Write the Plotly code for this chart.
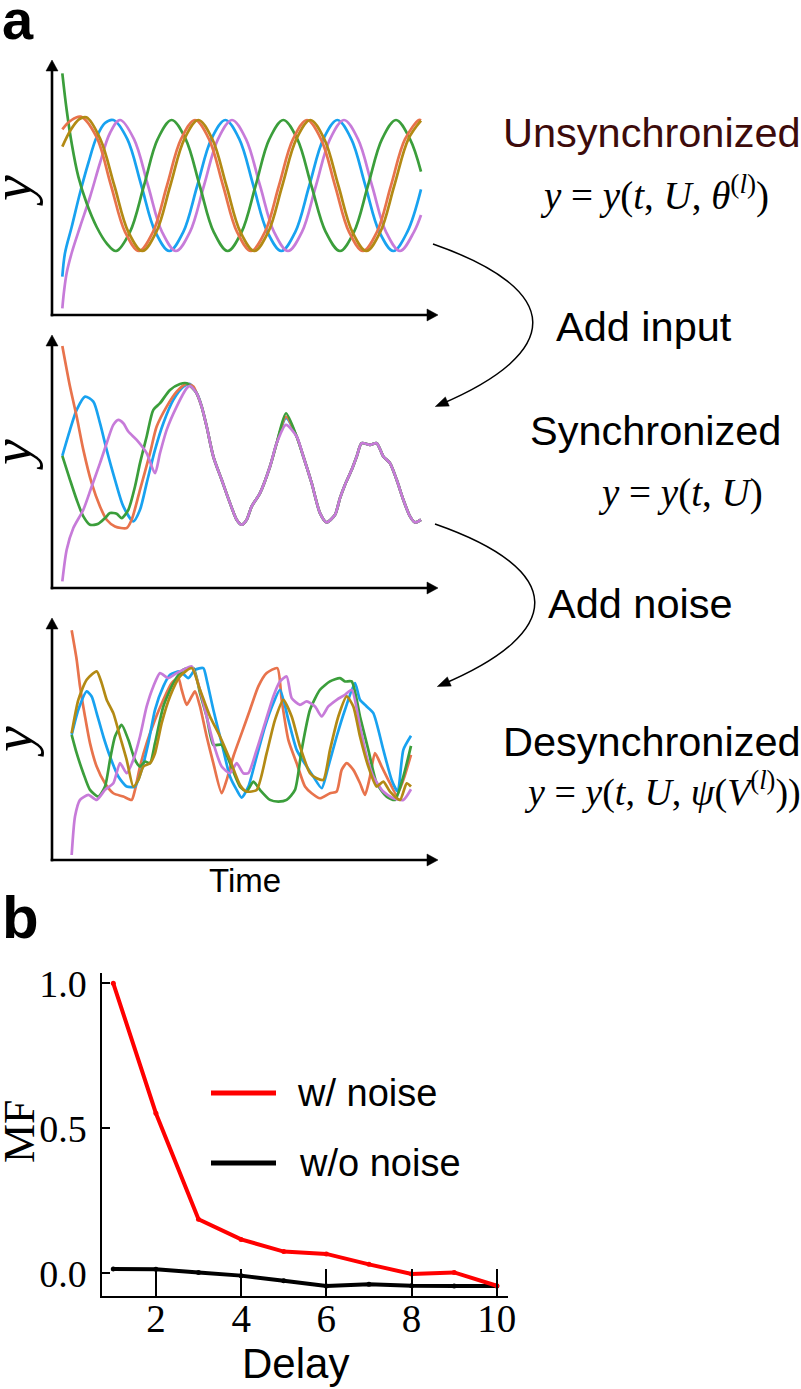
import plotly.graph_objects as go

W, H = 801, 1389

# ======================= DATA =======================
# Panel a, top: unsynchronized oscillators (time and y in arbitrary units)
unsync_green_t = [0, 1.3, 2.8, 4.8, 7.3, 10.3, 13.3, 16.1, 20.3, 24.5, 28.6, 32.8, 37.0, 41.2, 45.4, 49.6, 53.8, 58.0, 62.1, 66.3, 70.5, 74.7, 79.0, 83.3, 87.5, 91.7, 95.9, 100.1, 104.3, 107.6]
unsync_green_y = [72.5, 61.5, 51.5, 41.5, 33.5, 26.4, 21.5, 19.2, 24.95, 38.85, 52.75, 58.5, 52.75, 38.85, 24.95, 19.2, 24.95, 38.85, 52.75, 58.5, 52.75, 38.85, 24.95, 19.2, 24.95, 38.85, 52.75, 58.5, 52.75, 43.0]
unsync_orange_t = [0, 2.5, 5.5, 10.2, 14.6, 18.8, 23.0, 27.2, 31.4, 35.6, 39.8, 44.0, 48.2, 52.4, 56.6, 60.8, 65.0, 69.2, 73.4, 77.6, 81.8, 86.0, 90.2, 94.4, 98.6, 102.8, 107.0, 107.6]
unsync_orange_y = [55.7, 58.3, 59.5, 53.5, 38.85, 24.95, 19.2, 24.95, 38.85, 52.75, 58.5, 52.75, 38.85, 24.95, 19.2, 24.95, 38.85, 52.75, 58.5, 52.75, 38.85, 24.95, 19.2, 24.95, 38.85, 52.75, 58.5, 58.4]
unsync_olive_t = [0, 2.5, 5.0, 7.2, 11.4, 15.6, 19.8, 24.0, 28.2, 32.4, 36.6, 40.8, 45.0, 49.2, 53.4, 57.6, 61.8, 66.0, 70.2, 74.4, 78.6, 82.8, 87.0, 91.2, 95.4, 99.6, 103.8, 107.6]
unsync_olive_y = [50.5, 55.5, 58.7, 59.3, 52.75, 38.85, 24.95, 19.2, 24.95, 38.85, 52.75, 58.5, 52.75, 38.85, 24.95, 19.2, 24.95, 38.85, 52.75, 58.5, 52.75, 38.85, 24.95, 19.2, 24.95, 38.85, 52.75, 58.3]
unsync_blue_t = [0, 0.8, 2.8, 5.3, 7.8, 10.3, 12.8, 15.3, 19.5, 23.7, 27.9, 32.1, 36.3, 40.5, 44.7, 48.9, 53.1, 57.3, 61.5, 65.7, 69.9, 74.1, 78.3, 82.5, 86.7, 90.9, 95.1, 99.3, 103.5, 107.6]
unsync_blue_y = [11.5, 18.6, 26.4, 36.6, 45.6, 53.4, 57.6, 58.5, 52.75, 38.85, 24.95, 19.2, 24.95, 38.85, 52.75, 58.5, 52.75, 38.85, 24.95, 19.2, 24.95, 38.85, 52.75, 58.5, 52.75, 38.85, 24.95, 19.2, 24.95, 37.7]
unsync_purple_t = [0, 0.5, 1.3, 2.8, 5.3, 8.3, 11.3, 14.3, 17.3, 21.5, 25.7, 29.9, 34.1, 38.3, 42.5, 46.7, 50.9, 55.1, 59.3, 63.5, 67.7, 71.9, 76.1, 80.3, 84.5, 88.7, 92.9, 97.1, 101.3, 105.5, 107.6]
unsync_purple_y = [2.0, 7.0, 12.6, 18.6, 26.4, 35.4, 45.6, 54.6, 58.5, 52.75, 38.85, 24.95, 19.2, 24.95, 38.85, 52.75, 58.5, 52.75, 38.85, 24.95, 19.2, 24.95, 38.85, 52.75, 58.5, 52.75, 38.85, 24.95, 19.2, 24.95, 30.0]

# Panel a, middle: synchronized (individual transients, then a shared response)
sync_orange_head_t = [0, 2.3, 4.3, 6.3, 8.8, 11.3, 13.3, 15.8, 19.3, 20.8, 23.3, 26.3, 28.3, 31.3, 34.3, 37.3, 39.3]
sync_orange_head_y = [72.7, 60.5, 51.5, 41.5, 31.5, 24.5, 20.5, 18.5, 18.0, 20.5, 29.5, 40.5, 48.5, 54.5, 59.0, 61.3, 60.5]
sync_blue_head_t = [0, 2.3, 4.3, 6.8, 9.3, 11.3, 13.3, 15.8, 18.3, 21.3, 23.3, 25.3, 27.8, 30.3, 33.3, 36.3, 38.3]
sync_blue_head_y = [39.7, 47.5, 53.5, 57.5, 56.0, 49.5, 41.5, 32.5, 24.5, 20.0, 23.5, 31.5, 41.5, 49.5, 56.5, 60.5, 61.3]
sync_green_head_t = [0, 2.3, 4.3, 6.3, 8.3, 10.8, 12.8, 14.3, 16.3, 17.8, 19.8, 21.8, 23.3, 25.3, 27.3, 29.3, 32.3, 35.3, 37.3]
sync_green_head_y = [39.7, 32.5, 26.5, 21.5, 19.0, 19.3, 21.0, 22.5, 22.3, 21.0, 23.5, 30.5, 37.5, 45.5, 53.5, 55.5, 59.5, 61.3, 61.5]
sync_purple_head_t = [0, 1.3, 3.3, 6.3, 8.8, 11.3, 13.3, 15.3, 16.8, 18.3, 19.8, 22.3, 25.3, 27.8, 29.3, 31.3, 34.3, 37.3, 38.3]
sync_purple_head_y = [2.0, 11.5, 18.0, 23.5, 30.5, 37.5, 43.5, 49.0, 50.5, 49.5, 47.0, 44.5, 40.5, 34.5, 40.5, 47.5, 54.5, 60.0, 60.7]
sync_tail_a_t = [40.3, 41.8, 43.3, 45.3, 47.8, 50.3, 52.3, 53.8, 55.3, 56.8, 59.3, 62.3, 64.3]
sync_tail_a_y = [58.5, 54.5, 48.5, 39.5, 32.5, 25.5, 20.5, 19.0, 20.5, 24.5, 28.5, 36.5, 43.5]
sync_peak_t = 67.1
sync_peak_y = {"orange": 51.5, "blue": 51.0, "green": 52.5, "purple": 49.0}
sync_tail_b_t = [70.3, 72.3, 74.8, 77.3, 79.3, 81.8, 83.3, 84.8, 86.8, 88.3, 89.8, 92.3, 94.3, 96.3, 98.3, 100.3, 102.3, 104.3, 105.8, 107.6]
sync_tail_b_y = [45.5, 39.5, 31.5, 22.5, 19.7, 22.0, 27.0, 31.0, 35.5, 39.5, 43.5, 43.0, 43.5, 39.5, 37.5, 32.5, 26.5, 21.5, 19.7, 20.5]

# Panel a, bottom: desynchronized by noise
desync_orange_t = [2.8, 4.3, 5.3, 6.8, 8.3, 10.3, 12.8, 15.3, 18.3, 20.8, 21.8, 23.3, 25.3, 27.8, 30.3, 32.8, 34.8, 35.8, 37.3, 38.8, 39.8, 41.3, 43.3, 45.3, 47.8, 49.3, 51.3, 53.8, 56.3, 58.8, 61.3, 64.5, 65.8, 67.8, 70.3, 72.8, 74.8, 77.3, 80.3, 82.3, 83.8, 85.3, 87.3, 89.3, 90.8, 92.3, 93.8, 95.8, 98.3, 100.3, 102.3, 104.6]
desync_orange_y = [68.8, 60.0, 52.0, 43.0, 35.0, 28.0, 23.0, 20.0, 19.0, 18.0, 21.0, 28.0, 35.0, 42.0, 48.0, 53.0, 54.5, 51.0, 46.5, 49.0, 50.5, 46.0, 37.0, 29.0, 20.0, 24.0, 31.0, 38.0, 45.0, 52.0, 56.0, 57.5, 48.0, 36.0, 29.0, 22.0, 20.0, 18.5, 20.0, 20.5, 27.0, 29.0, 27.0, 23.0, 19.5, 25.0, 32.0, 28.0, 23.0, 19.5, 24.0, 31.5]
desync_blue_t = [2.8, 4.8, 7.3, 8.8, 10.3, 12.3, 14.3, 16.8, 19.3, 21.8, 23.8, 25.8, 27.8, 30.3, 32.3, 35.3, 37.8, 39.8, 42.3, 43.3, 45.3, 47.8, 50.3, 52.3, 53.8, 55.8, 58.3, 60.8, 63.3, 65.3, 67.8, 70.3, 73.3, 75.3, 77.8, 79.8, 82.3, 84.8, 87.8, 89.3, 91.3, 93.3, 96.3, 98.8, 100.6, 102.3, 104.6]
desync_blue_y = [37.5, 45.0, 50.5, 49.0, 44.0, 37.0, 31.0, 25.0, 22.0, 22.0, 27.0, 35.0, 45.0, 52.0, 55.5, 56.5, 54.5, 57.0, 57.5, 54.0, 45.0, 35.0, 25.0, 21.0, 18.7, 22.0, 31.0, 40.0, 47.0, 51.0, 42.0, 33.0, 28.0, 25.0, 21.5, 28.0, 37.0, 45.0, 53.0, 48.0, 46.0, 44.0, 33.0, 24.0, 20.5, 33.0, 37.2]
desync_green_t = [2.8, 4.3, 6.3, 8.3, 10.8, 12.8, 14.3, 15.8, 17.8, 19.8, 21.8, 23.3, 24.8, 26.3, 27.8, 30.3, 33.3, 36.3, 39.3, 41.3, 43.3, 45.3, 47.8, 50.3, 53.3, 55.3, 57.3, 59.3, 62.3, 64.8, 67.3, 69.8, 71.8, 74.3, 77.3, 80.3, 83.3, 84.8, 86.8, 89.3, 91.8, 94.3, 97.3, 99.8, 102.3, 104.6]
desync_green_y = [37.5, 32.0, 26.0, 21.0, 19.0, 22.0, 30.0, 37.0, 40.5, 36.0, 30.0, 28.0, 29.5, 29.0, 35.0, 46.0, 53.0, 57.0, 57.5, 50.0, 43.0, 34.5, 34.5, 29.0, 22.0, 20.5, 23.5, 21.0, 18.0, 17.5, 18.0, 21.0, 33.0, 45.0, 51.0, 53.5, 54.5, 53.5, 53.5, 43.0, 33.0, 23.0, 19.0, 18.0, 25.0, 34.2]
desync_purple_t = [2.8, 3.8, 5.3, 7.8, 10.3, 12.8, 15.3, 17.3, 19.3, 21.3, 23.3, 25.3, 27.3, 29.3, 31.8, 34.3, 36.8, 38.8, 41.3, 43.3, 45.3, 47.8, 50.3, 52.3, 54.3, 55.8, 58.3, 60.8, 63.3, 65.3, 67.3, 68.8, 71.3, 73.3, 75.8, 77.8, 79.8, 82.3, 84.8, 86.8, 89.3, 91.3, 93.3, 96.3, 99.3, 102.3, 104.6]
desync_purple_y = [1.5, 13.0, 18.0, 19.5, 18.0, 21.0, 23.0, 29.0, 26.0, 30.0, 37.0, 46.0, 52.0, 56.0, 54.5, 56.0, 57.2, 58.0, 51.0, 43.0, 35.0, 28.0, 26.0, 29.0, 26.0, 26.0, 33.0, 41.0, 49.0, 53.5, 55.0, 48.5, 46.5, 47.5, 46.0, 43.0, 46.0, 48.0, 49.5, 51.0, 40.0, 31.0, 25.0, 20.5, 18.5, 18.0, 21.2]
desync_olive_t = [2.8, 4.8, 7.3, 10.3, 11.8, 13.3, 15.3, 17.3, 19.3, 21.3, 22.8, 24.3, 26.3, 27.8, 29.8, 32.3, 35.3, 38.8, 41.3, 44.3, 47.3, 50.3, 53.3, 55.3, 58.3, 61.3, 63.8, 66.3, 68.8, 71.3, 74.3, 76.3, 78.3, 80.3, 82.8, 85.3, 87.3, 89.3, 91.8, 94.3, 96.3, 98.3, 101.3, 103.3, 104.6]
desync_olive_y = [38.0, 48.0, 54.0, 56.5, 53.0, 48.0, 44.0, 37.0, 30.0, 22.0, 24.0, 28.0, 29.0, 32.0, 41.0, 49.0, 55.0, 57.5, 51.0, 43.0, 37.0, 30.0, 22.5, 20.5, 21.0, 32.0, 42.0, 48.0, 43.0, 34.0, 26.0, 24.5, 24.0, 33.0, 43.0, 49.0, 46.0, 37.0, 28.0, 22.0, 23.5, 20.5, 18.0, 23.0, 22.0]

# Panel b: memory function vs delay
delay = [1, 2, 3, 4, 5, 6, 7, 8, 9, 10]
mf_with_noise = [1.0, 0.552, 0.186, 0.117, 0.075, 0.067, 0.031, -0.002, 0.003, -0.043]
mf_without_noise = [0.015, 0.014, 0.003, -0.008, -0.026, -0.044, -0.038, -0.043, -0.044, -0.044]
delay_ticks = [2, 4, 6, 8, 10]
mf_ticks = [0.0, 0.5, 1.0]
mf_ticktext = ["0.0", "0.5", "1.0"]

# ======================= FIGURE =======================
C = dict(green="#3b9e3b", orange="#e8734c", blue="#18a2f0", purple="#c77bd9", olive="#b38a14")
LW = 2.7


def fx(px):
    return px / W


def fy(py):
    return 1 - py / H


fig = go.Figure()


def add_curve(xa, ya, t, y, color, smooth=1.0):
    fig.add_trace(go.Scatter(
        x=t, y=y, xaxis=xa, yaxis=ya, mode="lines",
        line=dict(color=color, width=LW, shape="spline", smoothing=smooth),
        showlegend=False, hoverinfo="skip"))


# top panel
add_curve("x", "y", unsync_blue_t, unsync_blue_y, C["blue"])
add_curve("x", "y", unsync_purple_t, unsync_purple_y, C["purple"])
add_curve("x", "y", unsync_green_t, unsync_green_y, C["green"])
add_curve("x", "y", unsync_orange_t, unsync_orange_y, C["orange"])
add_curve("x", "y", unsync_olive_t, unsync_olive_y, C["olive"])

# middle panel
for name, ht, hy in [("blue", sync_blue_head_t, sync_blue_head_y),
                     ("orange", sync_orange_head_t, sync_orange_head_y),
                     ("green", sync_green_head_t, sync_green_head_y),
                     ("purple", sync_purple_head_t, sync_purple_head_y)]:
    t = ht + sync_tail_a_t + [sync_peak_t] + sync_tail_b_t
    y = hy + sync_tail_a_y + [sync_peak_y[name]] + sync_tail_b_y
    add_curve("x2", "y2", t, y, C[name], 0.7)

# bottom panel
add_curve("x3", "y3", desync_orange_t, desync_orange_y, C["orange"], 0.6)
add_curve("x3", "y3", desync_blue_t, desync_blue_y, C["blue"], 0.6)
add_curve("x3", "y3", desync_green_t, desync_green_y, C["green"], 0.6)
add_curve("x3", "y3", desync_purple_t, desync_purple_y, C["purple"], 0.6)
add_curve("x3", "y3", desync_olive_t, desync_olive_y, C["olive"], 0.6)

# panel b
fig.add_trace(go.Scatter(x=delay, y=mf_without_noise, xaxis="x4", yaxis="y4",
                         mode="lines+markers", name="w/o noise",
                         line=dict(color="black", width=4), marker=dict(size=5, color="black"),
                         showlegend=False))
fig.add_trace(go.Scatter(x=delay, y=mf_with_noise, xaxis="x4", yaxis="y4",
                         mode="lines+markers", name="w/ noise",
                         line=dict(color="#ff0000", width=4), marker=dict(size=5, color="#ff0000"),
                         showlegend=False))

hidden = dict(visible=False, fixedrange=True, automargin=False)
xr = [-3.1, 112.7]
fig.update_layout(
    width=W, height=H, autosize=False,
    margin=dict(l=0, r=0, t=0, b=0, pad=0, autoexpand=False),
    paper_bgcolor="white", plot_bgcolor="rgba(0,0,0,0)",
    xaxis=dict(domain=[fx(52), fx(438)], range=xr, anchor="y", **hidden),
    yaxis=dict(domain=[fy(315), fy(60)], range=[0, 76.5], anchor="x", **hidden),
    xaxis2=dict(domain=[fx(52), fx(438)], range=xr, anchor="y2", **hidden),
    yaxis2=dict(domain=[fy(588), fy(335)], range=[0, 76], anchor="x2", **hidden),
    xaxis3=dict(domain=[fx(52), fx(438)], range=xr, anchor="y3", **hidden),
    yaxis3=dict(domain=[fy(860), fy(618)], range=[0, 72.5], anchor="x3", **hidden),
    xaxis4=dict(domain=[fx(102.3), fx(508.3)], range=[0.742, 10.27], anchor="y4", automargin=False,
                showline=True, linecolor="black", linewidth=2, showgrid=False, zeroline=False,
                ticks="inside", ticklen=27, tickwidth=2, tickcolor="black",
                tickvals=delay_ticks, ticklabelstandoff=-13,
                tickfont=dict(family="Liberation Serif", size=39, color="black")),
    yaxis4=dict(domain=[fy(1295.7), fy(973)], range=[-0.0772, 1.0355], anchor="x4", automargin=False,
                showline=True, linecolor="black", linewidth=2, showgrid=False, zeroline=False,
                ticks="inside", ticklen=8, tickwidth=2, tickcolor="black",
                tickvals=mf_ticks, ticktext=mf_ticktext, ticklabelstandoff=6,
                tickfont=dict(family="Liberation Serif", size=38, color="black")),
    showlegend=False,
)

shapes = []


def line(x0, y0, x1, y1, width=2.6, color="black"):
    shapes.append(dict(type="line", xref="paper", yref="paper",
                       x0=fx(x0), y0=fy(y0), x1=fx(x1), y1=fy(y1),
                       line=dict(color=color, width=width)))


def tri(pts, color="black"):
    p = "M " + " L ".join(f"{fx(a):.5f},{fy(b):.5f}" for a, b in pts) + " Z"
    shapes.append(dict(type="path", xref="paper", yref="paper", path=p,
                       fillcolor=color, line=dict(color=color, width=0.5)))


# arrowed axes for panel a
for top, bottom in [(60, 315), (335, 588), (618, 860)]:
    line(52, bottom + 1.3, 52, top + 9)
    tri([(52, top), (46, top + 11), (58, top + 11)])
    line(50.7, bottom, 428, bottom)
    tri([(438, bottom), (427, bottom - 6), (427, bottom + 6)])


# curved arrows
def curved(p0, p1, p2, p3):
    path = "M {} C {} {} {}".format(*[f"{fx(a):.5f},{fy(b):.5f}" for a, b in (p0, p1, p2, p3)])
    shapes.append(dict(type="path", xref="paper", yref="paper", path=path,
                       line=dict(color="black", width=1.5)))
    dx, dy = p3[0] - p2[0], p3[1] - p2[1]
    n = (dx * dx + dy * dy) ** 0.5
    ux, uy = dx / n, dy / n
    tip = (p3[0] + ux * 4, p3[1] + uy * 4)
    bx, by = tip[0] - ux * 13, tip[1] - uy * 13
    tri([tip, (bx - uy * 5, by + ux * 5), (bx + uy * 5, by - ux * 5)])


curved((433, 244), (565, 290), (565, 352), (439, 405))
curved((435, 524), (567, 570), (567, 632), (441, 685))

# manual legend for panel b
line(211, 1093, 276, 1093, width=5, color="#ff0000")
line(211, 1163, 276, 1163, width=5, color="black")

fig.update_layout(shapes=shapes)

SANS = "Liberation Sans"
SERIF = "Liberation Serif"


def text(x, y, s, size, family=SANS, xanchor="center", color="black", angle=0, bold=False):
    if bold:
        s = f"<b>{s}</b>"
    fig.add_annotation(xref="paper", yref="paper", x=fx(x), y=fy(y), text=s, showarrow=False,
                       xanchor=xanchor, yanchor="middle", textangle=angle,
                       font=dict(family=family, size=size, color=color))


text(0, 19, "a", 56, bold=True, xanchor="left")
text(0, 917, "b", 60, bold=True, xanchor="left")

text(803, 133, "Unsynchronized", 41.5, xanchor="right", color="#3d0b0b")
text(654, 193, "<i>y</i> = <i>y</i>(<i>t</i>, <i>U</i>, <i>θ</i><sup>(<i>l</i>)</sup>)", 39, family=SERIF)
text(655, 430, "Synchronized", 41.5)
text(680, 493, "<i>y</i> = <i>y</i>(<i>t</i>, <i>U</i>)", 39, family=SERIF)
text(803, 741, "Desynchronized", 41.5, xanchor="right")
text(803, 789, "<i>y</i> = <i>y</i>(<i>t</i>, <i>U</i>, <i>ψ</i>(<i>V</i><sup>(<i>l</i>)</sup>))", 38, family=SERIF, xanchor="right")
text(644, 327, "Add input", 41.5)
text(640, 603, "Add noise", 41.5)
text(245, 880, "Time", 33)

for yc in (191, 455, 742):
    text(12, yc, "<i>y</i>", 58, family=SERIF, angle=-90)

text(19, 1131, "MF", 44, family=SERIF, angle=-90)
text(295, 1363, "Delay", 42)
text(295, 1093, "w/ noise", 38, xanchor="left")
text(297, 1163, "w/o noise", 38, xanchor="left")

fig.write_html("out.html", config={"displayModeBar": False},
               post_script="document.body.style.margin='0';document.body.style.overflow='hidden';")
